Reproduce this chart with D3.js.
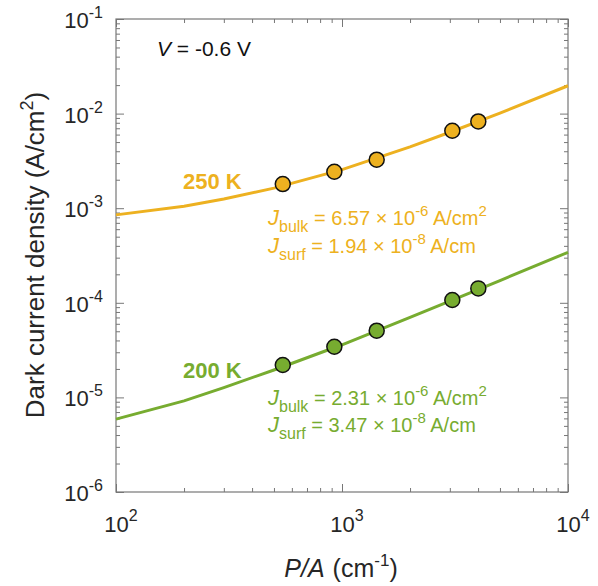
<!DOCTYPE html>
<html>
<head>
<meta charset="utf-8">
<script src="https://cdn.jsdelivr.net/npm/d3@7"></script>
<style>
  body { margin: 0; background: #fff; }
  text { font-family: "Liberation Sans", Arial, sans-serif; }
</style>
</head>
<body>
<div id="chart"></div>
<script>
// measured points
var pa = [547, 925, 1424, 3077, 4010];
var j250 = [1.80e-3, 2.43e-3, 3.26e-3, 6.59e-3, 8.27e-3];
var j200 = [2.2e-5, 3.43e-5, 5.07e-5, 1.07e-4, 1.42e-4];

// fitted curves
var fitPA = [100, 200, 300, 500, 1000, 2000, 3000, 5000, 10000];
var fit250 = [8.5e-4, 1.05e-3, 1.25e-3, 1.63e-3, 2.56e-3, 4.45e-3, 6.35e-3, 1.01e-2, 1.97e-2];
var fit200 = [5.9e-6, 9.2e-6, 1.27e-5, 1.95e-5, 3.6e-5, 7.0e-5, 1.04e-4, 1.72e-4, 3.42e-4];

var xDecades = [2, 3, 4];
var yDecades = [-6, -5, -4, -3, -2, -1];

var orange = "#EDB120",
    green = "#77AC30",
    ink = "#262626";

var margin = {top: 19, right: 30, bottom: 94, left: 116},
    width = 598 - margin.left - margin.right,
    height = 586 - margin.top - margin.bottom;

var svg = d3.select("#chart")
    .append("svg")
    .attr("width", 598)
    .attr("height", 586);

var g = svg.append("g")
    .attr("transform", "translate(" + margin.left + "," + margin.top + ")");

var x = d3.scaleLog().domain([1e2, 1e4]).range([0, width]);
var y = d3.scaleLog().domain([1e-6, 1e-1]).range([height, 0]);

function minors(lo, hi) {
    var out = [];
    for (var e = lo; e < hi; e++) {
        for (var m = 2; m < 10; m++) out.push(m * Math.pow(10, e));
    }
    return out;
}
var xMajor = xDecades.map(function (e) { return Math.pow(10, e); });
var yMajor = yDecades.map(function (e) { return Math.pow(10, e); });
var xMinor = minors(2, 4), yMinor = minors(-6, -1);

// ticks, all pointing inward on every side
function tickAxis(axis, scale, values, size, transform) {
    var a = g.append("g")
        .attr("class", "axis")
        .attr("transform", transform || null)
        .call(axis(scale).tickValues(values).tickFormat("").tickSize(size).tickSizeOuter(0));
    a.select(".domain").remove();
    a.selectAll("line").attr("stroke", "#777").attr("stroke-width", 1);
}
tickAxis(d3.axisBottom, x, xMajor, -8, "translate(0," + height + ")");
tickAxis(d3.axisBottom, x, xMinor, -4, "translate(0," + height + ")");
tickAxis(d3.axisTop, x, xMajor, -8);
tickAxis(d3.axisTop, x, xMinor, -4);
tickAxis(d3.axisLeft, y, yMajor, -8);
tickAxis(d3.axisLeft, y, yMinor, -4);
tickAxis(d3.axisRight, y, yMajor, -8, "translate(" + width + ",0)");
tickAxis(d3.axisRight, y, yMinor, -4, "translate(" + width + ",0)");

g.append("rect")
    .attr("width", width)
    .attr("height", height)
    .attr("fill", "none")
    .attr("stroke", "#777")
    .attr("stroke-width", 1.2);

// tick labels
g.selectAll(".ylab")
    .data(yDecades)
    .enter().append("text")
    .attr("class", "ylab")
    .attr("x", -13)
    .attr("y", function (d) { return y(Math.pow(10, d)) + 9; })
    .attr("text-anchor", "end")
    .attr("fill", ink)
    .style("font-size", "22px")
    .each(function (d) {
        var t = d3.select(this);
        t.append("tspan").text("10");
        t.append("tspan").attr("dy", -10).style("font-size", "16px").text(d);
    });

g.selectAll(".xlab")
    .data(xDecades)
    .enter().append("text")
    .attr("class", "xlab")
    .attr("x", function (d) { return x(Math.pow(10, d)) + 5; })
    .attr("y", height + 40)
    .attr("text-anchor", "middle")
    .attr("fill", ink)
    .style("font-size", "22px")
    .each(function (d) {
        var t = d3.select(this);
        t.append("tspan").text("10");
        t.append("tspan").attr("dy", -11).style("font-size", "16px").text(d);
    });

// axis titles
svg.append("text")
    .attr("transform", "translate(44,255) rotate(-90)")
    .attr("text-anchor", "middle")
    .attr("fill", ink)
    .style("font-size", "26px")
    .each(function () {
        var t = d3.select(this);
        t.append("tspan").text("Dark current density (A/cm");
        t.append("tspan").attr("dy", -11).style("font-size", "18px").text("2");
        t.append("tspan").attr("dy", 11).text(")");
    });

svg.append("text")
    .attr("x", 341)
    .attr("y", 577)
    .attr("text-anchor", "middle")
    .attr("fill", ink)
    .style("font-size", "25px")
    .each(function () {
        var t = d3.select(this);
        t.append("tspan").style("font-style", "italic").text("P/A");
        t.append("tspan").attr("dx", 8).text("(cm");
        t.append("tspan").attr("dy", -11).style("font-size", "17px").text("-1");
        t.append("tspan").attr("dy", 11).text(")");
    });

svg.append("text")
    .attr("x", 157)
    .attr("y", 56)
    .attr("fill", "#111")
    .style("font-size", "21px")
    .each(function () {
        var t = d3.select(this);
        t.append("tspan").style("font-style", "italic").text("V");
        t.append("tspan").text(" = -0.6 V");
    });

// fitted lines and data points
var line = d3.line()
    .x(function (d) { return x(d[0]); })
    .y(function (d) { return y(d[1]); });

var series = [
    {fit: fit250, pts: j250, color: orange},
    {fit: fit200, pts: j200, color: green}
];

series.forEach(function (s) {
    g.append("path")
        .datum(d3.zip(fitPA, s.fit))
        .attr("d", line)
        .attr("fill", "none")
        .attr("stroke", s.color)
        .attr("stroke-width", 3);

    g.selectAll(null)
        .data(d3.zip(pa, s.pts))
        .enter().append("circle")
        .attr("cx", function (d) { return x(d[0]); })
        .attr("cy", function (d) { return y(d[1]); })
        .attr("r", 7.5)
        .attr("fill", s.color)
        .attr("stroke", "#111")
        .attr("stroke-width", 1.5);
});

// annotations
function label(txt, color, px, py) {
    svg.append("text")
        .attr("x", px).attr("y", py)
        .attr("fill", color)
        .style("font-size", "22px")
        .style("font-weight", "bold")
        .text(txt);
}
label("250 K", orange, 183, 189);
label("200 K", green, 183, 378);

function fitText(color, py, sub, mant, unit) {
    var t = svg.append("text")
        .attr("x", 268).attr("y", py)
        .attr("fill", color)
        .style("font-size", "20px");
    t.append("tspan").style("font-style", "italic").style("font-size", "22px").text("J");
    t.append("tspan").attr("dy", 7).style("font-size", "16px").text(sub);
    t.append("tspan").attr("dy", -7).text(" = " + mant + " \u00d7 10");
    t.append("tspan").attr("dy", -9).style("font-size", "15px").text(unit[0]);
    t.append("tspan").attr("dy", 9).text(" A/cm");
    if (unit[1]) t.append("tspan").attr("dy", -9).style("font-size", "15px").text(unit[1]);
}
fitText(orange, 225, "bulk", "6.57", ["-6", "2"]);
fitText(orange, 253, "surf", "1.94", ["-8", ""]);
fitText(green, 405, "bulk", "2.31", ["-6", "2"]);
fitText(green, 432, "surf", "3.47", ["-8", ""]);
</script>
</body>
</html>
